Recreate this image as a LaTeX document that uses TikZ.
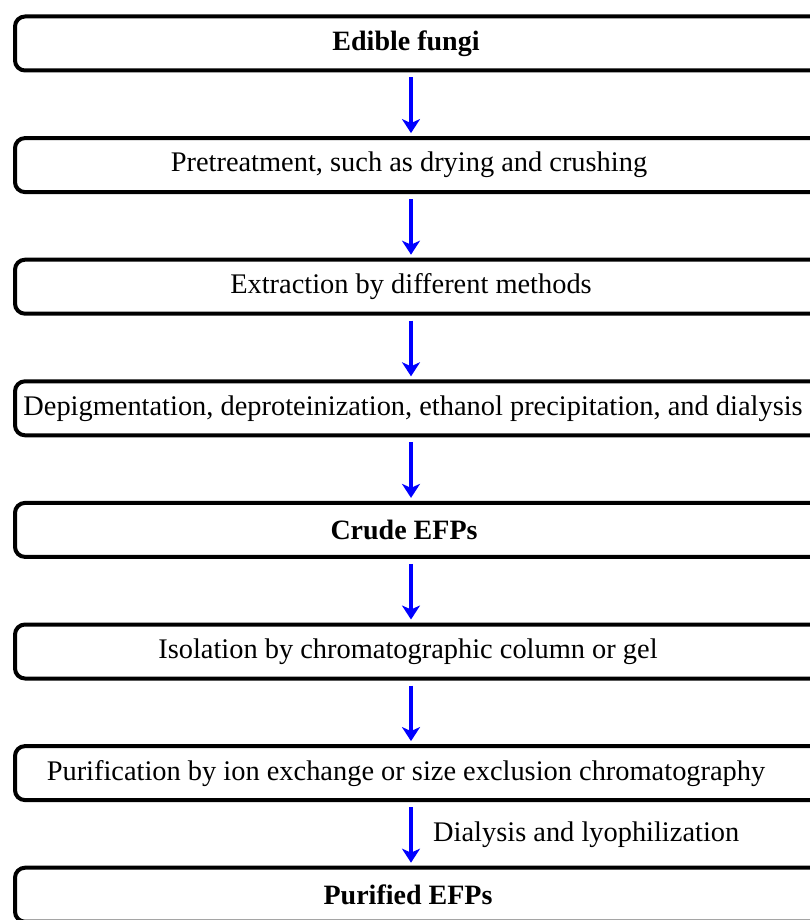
\documentclass[tikz,border=0pt]{standalone}
\usepackage{fontspec}
\setmainfont{Liberation Serif}
\usetikzlibrary{arrows.meta}

\tikzset{
  stage/.style={draw, line width=4pt, rounded corners=10pt, minimum width=826pt, minimum height=54pt, inner sep=0pt},
  lbl/.style={font=\fontsize{28.4}{34}\selectfont, inner sep=0pt},
  head/.style={font=\fontsize{28}{34}\selectfont\bfseries, inner sep=0pt},
  flow/.style={draw=blue, line width=4pt, -{Stealth[length=14pt,width=18pt,inset=4pt]}, shorten <=5pt, shorten >=3pt}
}

\begin{document}
\begin{tikzpicture}[x=1pt, y=-1pt]
\useasboundingbox (0,0) rectangle (810,920);

\node[stage] (b1) at (428,43.5) {};
\node[stage] (b2) at (428,165.1) {};
\node[stage] (b3) at (428,286.7) {};
\node[stage] (b4) at (428,408.3) {};
\node[stage] (b5) at (428,529.9) {};
\node[stage] (b6) at (428,651.5) {};
\node[stage] (b7) at (428,773.1) {};
\node[stage] (b8) at (428,894.7) {};

\node[head] (t1) at (406,43.5) {Edible fungi};
\node[lbl] (t2) at (409,165.1) {Pretreatment, such as drying and crushing};
\node[lbl] (t3) at (411,286.7) {Extraction by different methods};
\node[lbl] (t4) at (413,408.3) {Depigmentation, deproteinization, ethanol precipitation, and dialysis};
\node[head] (t5) at (404,529.9) {Crude EFPs};
\node[lbl] (t6) at (408,651.5) {Isolation by chromatographic column or gel};
\node[lbl] (t7) at (406,773.1) {Purification by ion exchange or size exclusion chromatography};
\node[head] (t8) at (408,894.7) {Purified EFPs};

\coordinate (ax) at (411,0);
\node[lbl, anchor=west] (t9) at (433,835) {Dialysis and lyophilization};

\path[flow] (b1.south -| ax) -- (b2.north -| ax);
\path[flow] (b2.south -| ax) -- (b3.north -| ax);
\path[flow] (b3.south -| ax) -- (b4.north -| ax);
\path[flow] (b4.south -| ax) -- (b5.north -| ax);
\path[flow] (b5.south -| ax) -- (b6.north -| ax);
\path[flow] (b6.south -| ax) -- (b7.north -| ax);
\path[flow] (b7.south -| ax) -- (b8.north -| ax);
\end{tikzpicture}
\end{document}
